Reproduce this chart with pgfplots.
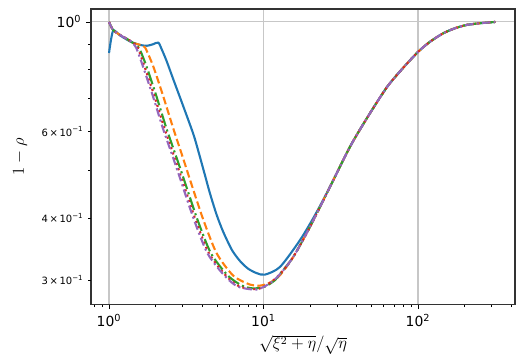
\documentclass[border=0pt]{standalone}
\usepackage{pgfplots}
\pgfplotsset{compat=1.18}
\usepackage{fontspec}
\setmainfont{DejaVu Sans}
\definecolor{c0}{HTML}{1F77B4}
\definecolor{c1}{HTML}{FF7F0E}
\definecolor{c2}{HTML}{2CA02C}
\definecolor{c3}{HTML}{D62728}
\definecolor{c4}{HTML}{9467BD}
\newcommand{\mn}[1]{{\fontsize{7.2}{8}\selectfont #1\,×\,10\textsuperscript{−1}}}
\begin{document}
\begin{tikzpicture}
 \begin{axis}[scale only axis,width=305pt,height=212.4pt,
  xmode=log,ymode=log,xmin=0.765,xmax=424.6,ymin=0.268,ymax=1.062,
  axis line style={black!80,line width=0.8pt},
  tick align=outside,xtick pos=lower,ytick pos=left,
  major tick length=3.5pt,minor tick length=2pt,
  every tick/.style={black,line width=0.6pt},
  xtick={1,10,100},xticklabels={10\textsuperscript{0},10\textsuperscript{1},10\textsuperscript{2}},
  minor xtick={0.8,0.9,2,3,4,5,6,7,8,9,20,30,40,50,60,70,80,90,200,300,400},
  ytick={1},yticklabels={10\textsuperscript{0}},
  minor ytick={0.3,0.4,0.5,0.6,0.7,0.8,0.9},
  extra y ticks={0.3,0.4,0.6},
  extra y tick labels={\mn{3},\mn{4},\mn{6}},
  extra y tick style={grid=none,major tick length=2pt},
  xmajorgrids,ymajorgrids,grid style={black!22,line width=0.8pt},
  ticklabel style={font=\fontsize{10}{12}\selectfont},
  xticklabel style={inner sep=1pt,yshift=-2.3pt},
  label style={font=\fontsize{12}{14}\selectfont},
  xlabel={$\sqrt{\xi^2+\eta}/\sqrt{\eta}$},ylabel={$1-\rho$},
  xlabel style={at={(axis description cs:0.5,-0.137)},anchor=center,inner sep=0pt},
  ylabel style={at={(axis description cs:-0.167,0.5)},anchor=center},
  every axis plot/.append style={line width=1.5pt,smooth,tension=0.45}]
  % blue, solid
  \addplot[c0] coordinates {(1,0.8652)(1.0614,0.9589)(1.178,0.9390)(1.368,0.9131)(1.587,0.8983)
   (1.762,0.8949)(1.927,0.9011)(2.085,0.9080)(2.203,0.8772)(2.363,0.8321)(2.608,0.7647)
   (3.027,0.6742)(3.513,0.5929)(3.784,0.5476)(4.182,0.4887)(4.505,0.4491)(4.979,0.4063)
   (5.494,0.3753)(6.254,0.3450)(7.046,0.3279)(7.938,0.3165)(9.036,0.3099)(10.22,0.3078)
   (12.79,0.3191)(17.23,0.3616)(21.54,0.4063)(26.94,0.4636)(36.3,0.5588)(46.6,0.6379)
   (62.7,0.7367)(80.0,0.8068)(100.4,0.8706)(119.6,0.9118)(145.9,0.9487)(173.6,0.9710)
   (206.6,0.9861)(252,0.9939)(316.2,1.0)};
  % orange, dashed
  \addplot[c1,dash pattern=on 5.5pt off 2.4pt] coordinates {(1,1.0)(1.0614,0.9634)(1.178,0.9411)
   (1.307,0.9237)(1.430,0.9067)(1.587,0.8990)(1.710,0.8878)(1.935,0.8121)(2.246,0.7061)
   (2.608,0.6079)(3.027,0.5276)(3.344,0.4790)(4.077,0.3975)(4.979,0.3398)(6.377,0.3062)
   (8.178,0.2938)(9.491,0.2924)(11.02,0.2965)(12.79,0.3070)(15.59,0.3344)(20.0,0.3847)
   (26.94,0.4636)(36.3,0.5588)(46.6,0.6379)(62.7,0.7367)(80.0,0.8068)(100.4,0.8706)
   (119.6,0.9118)(145.9,0.9487)(173.6,0.9710)(206.6,0.9861)(252,0.9939)(316.2,1.0)};
  % green, dash-dot
  \addplot[c2,dash pattern=on 9.6pt off 2.4pt on 1.5pt off 2.4pt] coordinates {(1,1.0)(1.0614,0.9634)
   (1.178,0.9411)(1.307,0.9237)(1.430,0.9067)(1.496,0.9016)(1.587,0.8776)(1.749,0.8121)
   (2.030,0.7061)(2.356,0.6079)(2.755,0.5276)(3.059,0.4790)(3.739,0.3975)(4.573,0.3398)
   (5.891,0.3062)(7.259,0.2924)(8.590,0.2886)(10.22,0.2910)(11.87,0.3000)(12.79,0.3088)
   (15.59,0.3344)(20.0,0.3847)(26.94,0.4636)(36.3,0.5588)(46.6,0.6379)(62.7,0.7367)
   (80.0,0.8068)(100.4,0.8706)(119.6,0.9118)(145.9,0.9487)(173.6,0.9710)(206.6,0.9861)
   (252,0.9939)(316.2,1.0)};
  % red, dotted
  \addplot[c3,dash pattern=on 1.5pt off 2.5pt] coordinates {(1,1.0)(1.0614,0.9634)(1.178,0.9411)
   (1.307,0.9237)(1.400,0.9120)(1.530,0.8878)(1.697,0.8121)(1.970,0.7061)(2.287,0.6079)
   (2.674,0.5276)(2.968,0.4790)(3.629,0.3975)(4.439,0.3398)(5.718,0.3062)(6.993,0.2912)
   (9.100,0.2876)(11.02,0.2962)(12.79,0.3088)(15.59,0.3344)(20.0,0.3847)(26.94,0.4636)
   (36.3,0.5588)(46.6,0.6379)(62.7,0.7367)(80.0,0.8068)(100.4,0.8706)(119.6,0.9118)
   (145.9,0.9487)(173.6,0.9710)(206.6,0.9861)(252,0.9939)(316.2,1.0)};
  % purple
  \addplot[c4,dash pattern=on 6pt off 2.4pt on 1.5pt off 2.4pt] coordinates {(1,1.0)(1.0614,0.9634)
   (1.178,0.9411)(1.307,0.9237)(1.388,0.9131)(1.496,0.8878)(1.660,0.8121)(1.927,0.7061)
   (2.236,0.6079)(2.616,0.5276)(2.903,0.4790)(3.549,0.3975)(4.341,0.3398)(5.593,0.3062)
   (6.839,0.2910)(9.036,0.2872)(11.02,0.2958)(12.79,0.3085)(15.59,0.3344)(20.0,0.3847)
   (26.94,0.4636)(36.3,0.5588)(46.6,0.6379)(62.7,0.7367)(80.0,0.8068)(100.4,0.8706)
   (119.6,0.9118)(145.9,0.9487)(173.6,0.9710)(206.6,0.9861)(252,0.9939)(316.2,1.0)};
 \end{axis}
 \pgfresetboundingbox
 \path ([shift={(-65.5pt,-39.6pt)}]current axis.south west) rectangle ([shift={(8.6pt,6.5pt)}]current axis.north east);
\end{tikzpicture}
\end{document}
